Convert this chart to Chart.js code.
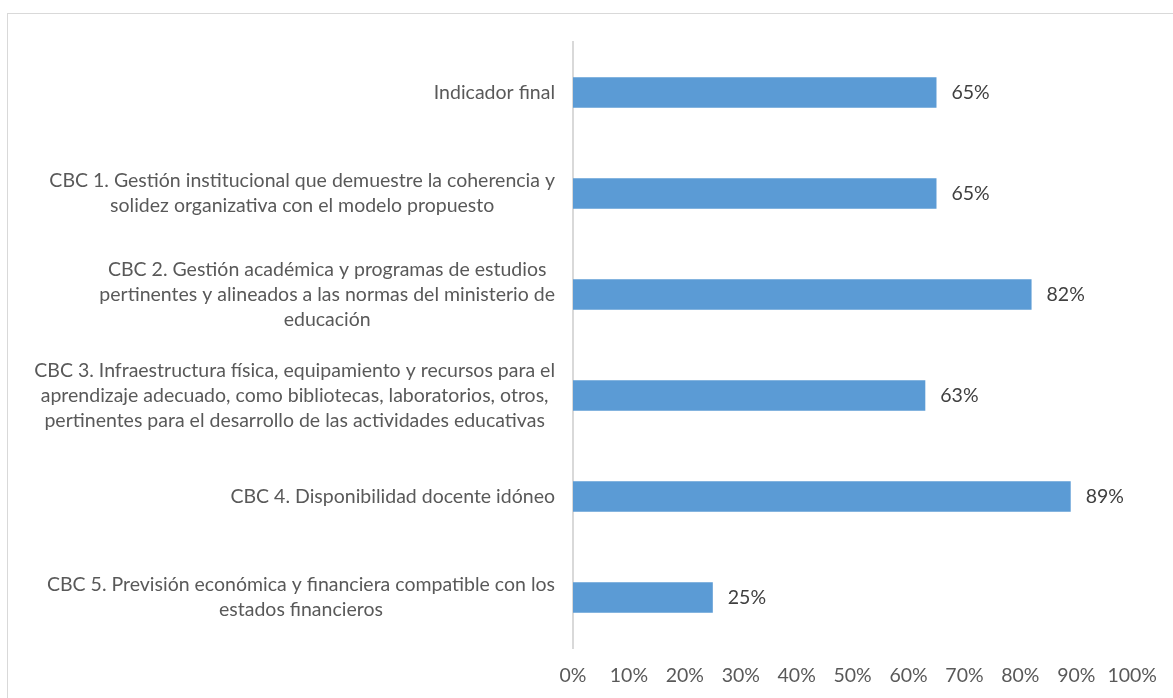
<!DOCTYPE html>
<html>
<head>
<meta charset="utf-8">
<script src="https://cdn.jsdelivr.net/npm/chart.js@4"></script>
<style>
  html, body { margin: 0; padding: 0; background: #fff; }
  #frame { position: absolute; left: 7px; top: 13px; width: 1180px; height: 700px; border: 1px solid #d9d9d9; }
  #wrap { position: absolute; left: 0; top: 0; width: 1173px; height: 698px; }
</style>
</head>
<body>
<div id="frame"></div>
<div id="wrap"><canvas id="c"></canvas></div>
<script>
/* Horizontal bar chart: CBC indicators */

const CATEGORIES = [
  ["Indicador final"],
  ["CBC 1. Gestión institucional que demuestre la coherencia y", "solidez organizativa con el modelo propuesto"],
  ["CBC 2. Gestión académica y programas de estudios", "pertinentes y alineados a las normas del ministerio de", "educación"],
  ["CBC 3. Infraestructura física, equipamiento y recursos para el", "aprendizaje adecuado, como bibliotecas, laboratorios, otros,", "pertinentes para el desarrollo de las actividades educativas"],
  ["CBC 4. Disponibilidad docente idóneo"],
  ["CBC 5. Previsión económica y financiera compatible con los", "estados financieros"],
];

const VALUES = [65, 65, 82, 63, 89, 25];

const X_MIN = 0;
const X_MAX = 100;
const X_STEP = 10;

const FONT = "Lato, 'Open Sans', sans-serif";
const FSIZE = 19.5;
const TEXT = "#595959";

// draws the multi-line category labels: block right-aligned, lines centred
const categoryLabels = {
  id: "categoryLabels",
  afterDraw(chart) {
    const ctx = chart.ctx;
    const y = chart.scales.y;
    const right = chart.chartArea.left - 18;
    const lh = 25;
    ctx.save();
    ctx.font = FSIZE + "px " + FONT;
    ctx.fillStyle = TEXT;
    ctx.textAlign = "center";
    ctx.textBaseline = "middle";
    CATEGORIES.forEach((lines, i) => {
      const w = Math.max(...lines.map((l) => ctx.measureText(l).width));
      const cx = right - w / 2;
      const cy = y.getPixelForTick(i);
      const y0 = cy - ((lines.length - 1) * lh) / 2;
      lines.forEach((l, k) => ctx.fillText(l, cx, y0 + k * lh));
    });
    ctx.restore();
  },
};

const valueLabels = {
  id: "valueLabels",
  afterDatasetsDraw(chart) {
    const ctx = chart.ctx;
    const meta = chart.getDatasetMeta(0);
    ctx.save();
    ctx.font = FSIZE + "px " + FONT;
    ctx.fillStyle = "#404040";
    ctx.textAlign = "left";
    ctx.textBaseline = "middle";
    meta.data.forEach((bar, i) => {
      ctx.fillText(VALUES[i] + "%", bar.x + 15, bar.y);
    });
    ctx.restore();
  },
};

new Chart(document.getElementById("c"), {
  type: "bar",
  data: {
    labels: CATEGORIES.map((c) => c.join(" ")),
    datasets: [
      {
        data: VALUES,
        backgroundColor: "#5b9bd5",
        barPercentage: 0.3,
        categoryPercentage: 1,
      },
    ],
  },
  options: {
    indexAxis: "y",
    responsive: true,
    maintainAspectRatio: false,
    animation: false,
    layout: { padding: { top: 42, right: 40, left: 0, bottom: 0 } },
    scales: {
      x: {
        min: X_MIN,
        max: X_MAX,
        grid: { display: false, drawTicks: false },
        border: { display: false },
        ticks: {
          stepSize: X_STEP,
          color: TEXT,
          font: { family: FONT, size: FSIZE },
          padding: 16,
          maxRotation: 0,
          autoSkip: false,
          callback: (v) => v + "%",
        },
        afterFit: (s) => { s.height = 50; },
      },
      y: {
        grid: { display: false, drawTicks: false },
        border: { display: true, color: "#d9d9d9", width: 2 },
        ticks: { display: false },
        afterFit: (s) => { s.width = 573; },
      },
    },
    plugins: {
      legend: { display: false },
      tooltip: { enabled: false },
    },
  },
  plugins: [categoryLabels, valueLabels],
});
</script>
</body>
</html>
